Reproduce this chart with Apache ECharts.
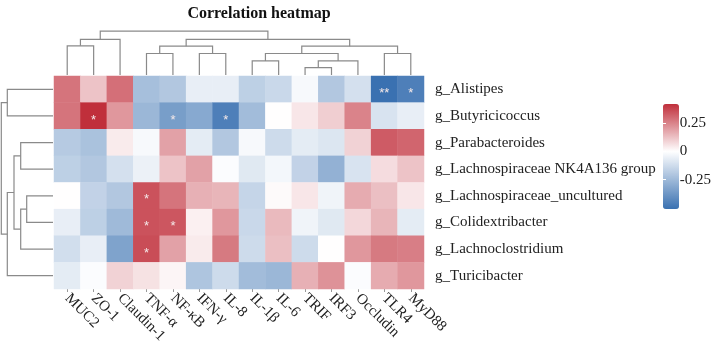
<!DOCTYPE html>
<html>
<head>
<meta charset="utf-8">
<script src="https://cdn.jsdelivr.net/npm/echarts@6/dist/echarts.min.js"></script>
<style>
  html, body { margin: 0; padding: 0; background: #fff; }
  #chart { width: 714px; height: 348px; }
</style>
</head>
<body>
<div id="chart"></div>
<script>
// 列（基因）和行（菌属），按聚类后的顺序
var genes = ['MUC2', 'ZO-1', 'Claudin-1', 'TNF-α', 'NF-κB', 'IFN-γ', 'IL-8', 'IL-1β', 'IL-6', 'TRIF', 'IRF3', 'Occludin', 'TLR4', 'MyD88'];
var genera = ['g_Alistipes', 'g_Butyricicoccus', 'g_Parabacteroides', 'g_Lachnospiraceae NK4A136 group',
    'g_Lachnospiraceae_uncultured', 'g_Colidextribacter', 'g_Lachnoclostridium', 'g_Turicibacter'];

// 相关系数
var corr = [
    [0.28, 0.12, 0.29, -0.23, -0.20, -0.06, -0.06, -0.17, -0.14, -0.02, -0.20, -0.11, -0.51, -0.46],
    [0.28, 0.42, 0.21, -0.26, -0.35, -0.31, -0.46, -0.24, 0.00, 0.05, 0.10, 0.25, -0.10, -0.06],
    [-0.19, -0.22, 0.04, -0.02, 0.19, -0.07, -0.20, -0.02, -0.13, -0.07, -0.09, 0.09, 0.33, 0.31],
    [-0.17, -0.20, -0.11, -0.05, 0.12, 0.19, -0.01, -0.08, -0.03, -0.16, -0.28, -0.10, 0.07, 0.12],
    [0.00, -0.16, -0.20, 0.35, 0.28, 0.16, 0.15, -0.15, 0.01, 0.05, -0.04, 0.17, 0.13, 0.05],
    [-0.06, -0.17, -0.25, 0.35, 0.34, 0.03, 0.21, -0.14, 0.14, -0.04, -0.08, 0.08, 0.15, -0.07],
    [-0.12, -0.06, -0.33, 0.36, 0.19, 0.04, 0.27, -0.13, 0.13, -0.13, 0.00, 0.21, 0.27, 0.26],
    [-0.07, -0.01, 0.09, 0.06, 0.02, -0.21, -0.13, -0.24, -0.26, 0.16, 0.22, -0.01, 0.17, 0.21]
];

// 显著性标记
var stars = [
    ['', '', '', '', '', '', '', '', '', '', '', '', '**', '*'],
    ['', '*', '', '', '*', '', '*', '', '', '', '', '', '', ''],
    ['', '', '', '', '', '', '', '', '', '', '', '', '', ''],
    ['', '', '', '', '', '', '', '', '', '', '', '', '', ''],
    ['', '', '', '*', '', '', '', '', '', '', '', '', '', ''],
    ['', '', '', '*', '*', '', '', '', '', '', '', '', '', ''],
    ['', '', '', '*', '', '', '', '', '', '', '', '', '', ''],
    ['', '', '', '', '', '', '', '', '', '', '', '', '', '']
];

// 聚类树：[左, 右, 高度]，小于叶子数的是叶子序号，否则是之前合并的编号+叶子数
var colMerges = [
    [0, 1, 29.2], [14, 2, 35.6], [3, 4, 21.5], [5, 6, 21.5], [16, 17, 28.8],
    [7, 8, 14.1], [9, 10, 7.3], [20, 11, 14.1], [19, 21, 21.5], [12, 13, 21.5],
    [22, 23, 28.8], [18, 24, 35.6], [15, 25, 43.9]
];
var rowMerges = [
    [0, 1, 45.7], [2, 3, 32.3], [4, 5, 26.3], [10, 6, 32.3], [9, 11, 39], [12, 7, 45.7], [8, 13, 51.7]
];

var legendTicks = [-0.25, 0, 0.25];
var scaleMin = -0.51, scaleMax = 0.42;

var FONT = 'Liberation Serif';

function dendroSegments(merges, n) {
    var pos = [], hgt = [], out = [];
    for (var i = 0; i < n; i++) { pos.push(i + 0.5); hgt.push(0); }
    for (var k = 0; k < merges.length; k++) {
        var a = merges[k][0], b = merges[k][1], h = merges[k][2];
        out.push([pos[a], pos[b], hgt[a], hgt[b], h]);
        pos.push((pos[a] + pos[b]) / 2);
        hgt.push(h);
    }
    return out;
}

// 蓝-白-红，白色对齐 0
function ramp() {
    var blue = [58, 113, 177], red = [192, 47, 59], cols = [];
    for (var t = 0; t <= 100; t++) {
        var v = scaleMin + (scaleMax - scaleMin) * t / 100;
        var c, f;
        if (v < 0) { c = blue; f = v / scaleMin; } else { c = red; f = v / scaleMax; }
        var r = Math.round(255 + (c[0] - 255) * f),
            g = Math.round(255 + (c[1] - 255) * f),
            b = Math.round(255 + (c[2] - 255) * f);
        cols.push('rgb(' + r + ',' + g + ',' + b + ')');
    }
    return cols;
}

var heatData = [];
for (var i = 0; i < genera.length; i++) {
    for (var j = 0; j < genes.length; j++) {
        heatData.push([j, i, corr[i][j]]);
    }
}

function dendroItem(horizontal) {
    return function (params, api) {
        var a = api.value(0), b = api.value(1), ha = api.value(2), hb = api.value(3), h = api.value(4);
        var p = horizontal
            ? [api.coord([ha, a]), api.coord([h, a]), api.coord([h, b]), api.coord([hb, b])]
            : [api.coord([a, ha]), api.coord([a, h]), api.coord([b, h]), api.coord([b, hb])];
        return {
            type: 'polyline',
            shape: { points: p },
            style: { stroke: '#8a8a8a', lineWidth: 1.2, fill: null }
        };
    };
}

var chart = echarts.init(document.getElementById('chart'));
var option = {
    backgroundColor: '#fff',
    animation: false,
    title: {
        text: 'Correlation heatmap',
        left: 254,
        textAlign: 'center',
        top: 1,
        textStyle: { fontFamily: FONT, fontWeight: 'bold', fontSize: 16, color: '#111' }
    },
    grid: [
        { left: 54, top: 76, width: 370, height: 213 },
        { left: 54, top: 31, width: 370, height: 44 },
        { left: 0, top: 76, width: 53, height: 213 },
        { left: 663, top: 104, width: 16, height: 105 }
    ],
    xAxis: [
        {
            type: 'category', gridIndex: 0, data: genes,
            axisLine: { show: false },
            axisTick: { show: true, alignWithLabel: true, length: 3, lineStyle: { color: '#999' } },
            axisLabel: { rotate: -45, margin: 7, fontFamily: FONT, fontSize: 15, color: '#222', interval: 0 }
        },
        { type: 'value', gridIndex: 1, min: 0, max: 14, show: false },
        { type: 'value', gridIndex: 2, min: 0, max: 53, inverse: true, show: false },
        { type: 'value', gridIndex: 3, min: 0, max: 1, show: false }
    ],
    yAxis: [
        {
            type: 'category', gridIndex: 0, data: genera, inverse: true, position: 'right',
            axisLine: { show: false }, axisTick: { show: false },
            axisLabel: { margin: 11, fontFamily: FONT, fontSize: 15, color: '#222' }
        },
        { type: 'value', gridIndex: 1, min: 0, max: 44, show: false },
        { type: 'value', gridIndex: 2, min: 0, max: 8, inverse: true, show: false },
        {
            type: 'value', gridIndex: 3, min: scaleMin, max: scaleMax, position: 'right', z: 10,
            splitLine: { show: false }, axisLine: { show: false },
            axisTick: { show: true, inside: true, length: 3, lineStyle: { color: '#fff' }, customValues: legendTicks },
            axisLabel: { margin: 5, fontFamily: FONT, fontSize: 15, color: '#222', customValues: legendTicks,
                formatter: function (v) { return String(v); } }
        },
        {
            type: 'value', gridIndex: 3, min: scaleMin, max: scaleMax, position: 'left', z: 10,
            splitLine: { show: false }, axisLine: { show: false }, axisLabel: { show: false },
            axisTick: { show: true, inside: true, length: 3, lineStyle: { color: '#fff' }, customValues: legendTicks }
        }
    ],
    visualMap: {
        type: 'continuous',
        seriesIndex: 0,
        min: scaleMin, max: scaleMax,
        calculable: false,
        left: 663, top: 104,
        itemWidth: 16, itemHeight: 105,
        padding: 0,
        text: null,
        showLabel: false,
        inRange: { color: ramp() }
    },
    series: [
        {
            type: 'heatmap', xAxisIndex: 0, yAxisIndex: 0,
            data: heatData,
            label: {
                show: true, color: '#f4e8e8', fontSize: 13, offset: [0, 4],
                formatter: function (p) { return stars[p.data[1]][p.data[0]]; }
            },
            emphasis: { disabled: true }
        },
        {
            type: 'custom', xAxisIndex: 1, yAxisIndex: 1, clip: false,
            renderItem: dendroItem(false),
            data: dendroSegments(colMerges, genes.length)
        },
        {
            type: 'custom', xAxisIndex: 2, yAxisIndex: 2, clip: false,
            renderItem: dendroItem(true),
            data: dendroSegments(rowMerges, genera.length)
        }
    ]
};
chart.setOption(option);
window.addEventListener('resize', chart.resize);
</script>
</body>
</html>
